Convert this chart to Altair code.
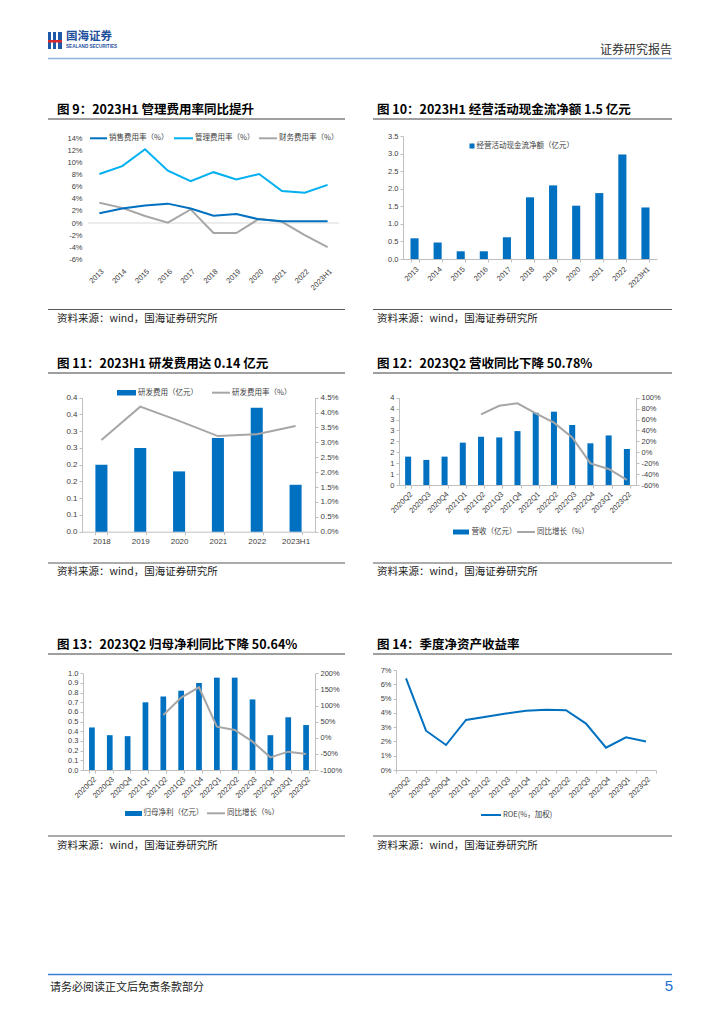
import altair as alt
import pandas as pd

CJK = "Noto Sans CJK SC"
LAT = "Liberation Sans"
BLUE = "#0070C0"
LBLUE = "#00B0F0"
GRAY = "#A6A6A6"
AX = "#BFBFBF"
LBL = "#404040"

# ---------------- data ----------------
years9 = ["2013", "2014", "2015", "2016", "2017", "2018", "2019", "2020", "2021", "2022", "2023H1"]
sales_rate = [1.6, 2.4, 2.9, 3.2, 2.4, 1.2, 1.5, 0.6, 0.3, 0.3, 0.3]
admin_rate = [8.1, 9.4, 12.2, 8.65, 6.9, 8.4, 7.2, 8.1, 5.3, 5.0, 6.3]
fin_rate = [3.35, 2.5, 1.15, 0.05, 2.25, -1.65, -1.65, 0.7, 0.2, -2.0, -4.0]
y9_ticks = [-6, -4, -2, 0, 2, 4, 6, 8, 10, 12, 14]

years10 = ["2013", "2014", "2015", "2016", "2017", "2018", "2019", "2020", "2021", "2022", "2023H1"]
ocf = [0.59, 0.47, 0.22, 0.22, 0.62, 1.76, 2.10, 1.52, 1.88, 2.98, 1.47]
y10_ticks = [0, 0.5, 1.0, 1.5, 2.0, 2.5, 3.0, 3.5]

years11 = ["2018", "2019", "2020", "2021", "2022", "2023H1"]
rd_exp = [0.20, 0.25, 0.18, 0.28, 0.37, 0.14]
rd_rate = [3.08, 4.20, 3.72, 3.21, 3.27, 3.55]
y11_left_ticks = [0, 0.05, 0.1, 0.15, 0.2, 0.25, 0.3, 0.35, 0.4]
y11_right_ticks = [0, 0.5, 1.0, 1.5, 2.0, 2.5, 3.0, 3.5, 4.0, 4.5]

quarters = ["2020Q2", "2020Q3", "2020Q4", "2021Q1", "2021Q2", "2021Q3", "2021Q4",
            "2022Q1", "2022Q2", "2022Q3", "2022Q4", "2023Q1", "2023Q2"]
revenue = [1.30, 1.15, 1.30, 1.94, 2.21, 2.18, 2.47, 3.31, 3.36, 2.75, 1.91, 2.27, 1.65]
rev_yoy = [None, None, None, None, 69.5, 85.3, 89.6, 71.3, 54.2, 27.3, -20.3, -30.7, -50.78]
y12_left_ticks = [0, 0.5, 1.0, 1.5, 2.0, 2.5, 3.0, 3.5, 4.0]
y12_right_ticks = [-60, -40, -20, 0, 20, 40, 60, 80, 100]

net_profit = [0.44, 0.36, 0.35, 0.70, 0.76, 0.82, 0.90, 0.955, 0.955, 0.73, 0.36, 0.545, 0.465]
np_yoy = [None, None, None, None, 70.7, 124.5, 156.6, 34.5, 24.1, -12.0, -60.7, -43.1, -50.64]
y13_left_ticks = [0, 0.1, 0.2, 0.3, 0.4, 0.5, 0.6, 0.7, 0.8, 0.9, 1.0]
y13_right_ticks = [-100, -50, 0, 50, 100, 150, 200]

roe = [6.42, 2.75, 1.75, 3.5, 3.73, 3.95, 4.15, 4.22, 4.18, 3.25, 1.56, 2.29, 2.0]
y14_ticks = [0, 1, 2, 3, 4, 5, 6, 7]

titles = ["图 9：2023H1 管理费用率同比提升", "图 10：2023H1 经营活动现金流净额 1.5 亿元",
          "图 11：2023H1 研发费用达 0.14 亿元", "图 12：2023Q2 营收同比下降 50.78%",
          "图 13：2023Q2 归母净利同比下降 50.64%", "图 14：季度净资产收益率"]
source_text = "资料来源：wind，国海证券研究所"
leg9 = ["销售费用率（%）", "管理费用率（%）", "财务费用率（%）"]
leg10 = "经营活动现金流净额（亿元）"
leg11 = ["研发费用（亿元）", "研发费用率（%）"]
leg12 = ["营收（亿元）", "同比增长（%）"]
leg13 = ["归母净利（亿元）", "同比增长（%）"]
leg14 = "ROE(%，加权)"

# ---------------- page geometry (view coords = page coords - 8) ----------------
W, H = 708, 980
O = 8


def ax(**kw):
    base = dict(labelFont=LAT, labelFontSize=7.5, labelColor=LBL, title=None, grid=False,
                domainColor=AX, tickColor=AX, tickSize=3, labelOverlap=False, labelFlush=False)
    base.update(kw)
    return alt.Axis(**base)


def xaxis(bottom, **kw):
    return ax(orient="bottom", offset=bottom - H, **kw)


def yleft(left, **kw):
    return ax(orient="left", offset=-left, **kw)


def yright(right, **kw):
    return ax(orient="right", offset=right - W, **kw)


layers = []

# ---------------- chart 9 ----------------
X9 = (80, 331)
Y9 = (251.3, 130.3)
df9 = pd.DataFrame({"year": years9, "sales": sales_rate, "admin": admin_rate, "fin": fin_rate})
sx9 = alt.Scale(type="point", domain=years9, range=list(X9), padding=0.5)
sy9 = alt.Scale(domain=[-6, 14], range=list(Y9), nice=False, zero=False)
df9z = pd.DataFrame({"z": [0]})
layers.append(alt.Chart(df9z).mark_rule(color="#D9D9D9", strokeWidth=1).encode(
    y=alt.Y("z:Q", scale=sy9, axis=None), x=alt.value(X9[0]), x2=alt.value(X9[1])))
layers.append(alt.Chart(df9).mark_line(color=LBLUE, strokeWidth=2).encode(
    x=alt.X("year:N", scale=sx9, axis=xaxis(Y9[0], labelAngle=-45, domain=False, ticks=False, labelPadding=8)),
    y=alt.Y("admin:Q", scale=sy9, axis=yleft(X9[0], values=y9_ticks, labelExpr="datum.value + '%'",
                                              domain=False, ticks=False, labelPadding=6))))
layers.append(alt.Chart(df9).mark_line(color=GRAY, strokeWidth=2).encode(
    x=alt.X("year:N", scale=sx9, axis=None), y=alt.Y("fin:Q", scale=sy9, axis=None)))
layers.append(alt.Chart(df9).mark_line(color=BLUE, strokeWidth=2).encode(
    x=alt.X("year:N", scale=sx9, axis=None), y=alt.Y("sales:Q", scale=sy9, axis=None)))

# ---------------- chart 10 ----------------
X10 = (395, 649)
Y10 = (251, 128.3)
df10 = pd.DataFrame({"year": years10, "ocf": ocf})
layers.append(alt.Chart(df10).mark_bar(color=BLUE).encode(
    x=alt.X("year:N", scale=alt.Scale(type="band", domain=years10, range=list(X10), paddingInner=0.65,
                                      paddingOuter=0.325),
            axis=xaxis(Y10[0], labelAngle=-45, tickBand="extent", labelPadding=3)),
    y=alt.Y("ocf:Q", scale=alt.Scale(domain=[0, 3.5], range=list(Y10), nice=False),
            axis=yleft(X10[0], values=y10_ticks, format=".1f", labelPadding=2))))

# ---------------- chart 11 ----------------
X11 = (74, 307)
Y11 = (523.7, 389.7)
df11 = pd.DataFrame({"year": years11, "rd": rd_exp, "rate": rd_rate})
sx11 = alt.Scale(type="band", domain=years11, range=list(X11), paddingInner=0.69, paddingOuter=0.345)
layers.append(alt.Chart(df11).mark_bar(color=BLUE).encode(
    x=alt.X("year:N", scale=sx11, axis=xaxis(Y11[0], labelAngle=0, tickBand="extent", labelPadding=3,
                                             labelFontSize=8)),
    y=alt.Y("rd:Q", scale=alt.Scale(domain=[0, 0.4], range=list(Y11), nice=False),
            axis=yleft(X11[0], values=y11_left_ticks,
                       labelExpr="format(round(datum.value*10 + 1e-9)/10, '.1f')", labelPadding=2,
                       labelFontSize=8))))
layers.append(alt.Chart(df11).mark_line(color=GRAY, strokeWidth=2).encode(
    x=alt.X("year:N", scale=sx11, bandPosition=0.5, axis=None),
    y=alt.Y("rate:Q", scale=alt.Scale(domain=[0, 4.5], range=list(Y11), nice=False),
            axis=yright(X11[1], values=y11_right_ticks, labelExpr="format(datum.value, '.1f') + '%'",
                        labelPadding=2, labelFontSize=8))))

# ---------------- chart 12 ----------------
X12 = (391, 628)
Y12 = (477, 389.7)
df12 = pd.DataFrame({"q": quarters, "rev": revenue, "yoy": rev_yoy})
sx12 = alt.Scale(type="band", domain=quarters, range=list(X12), paddingInner=0.67, paddingOuter=0.335)
layers.append(alt.Chart(df12).mark_bar(color=BLUE).encode(
    x=alt.X("q:N", scale=sx12, axis=xaxis(Y12[0], labelAngle=-45, tickBand="extent", labelPadding=2)),
    y=alt.Y("rev:Q", scale=alt.Scale(domain=[0, 4], range=list(Y12), nice=False),
            axis=yleft(X12[0], values=y12_left_ticks, labelExpr="format(round(datum.value + 1e-9), 'd')",
                       labelPadding=2))))
layers.append(alt.Chart(df12).mark_line(color=GRAY, strokeWidth=2).encode(
    x=alt.X("q:N", scale=sx12, bandPosition=0.5, axis=None),
    y=alt.Y("yoy:Q", scale=alt.Scale(domain=[-60, 100], range=list(Y12), nice=False),
            axis=yright(X12[1], values=y12_right_ticks, labelExpr="datum.value + '%'", labelPadding=2))))

# ---------------- chart 13 ----------------
X13 = (75, 307)
Y13 = (762, 665.3)
df13 = pd.DataFrame({"q": quarters, "np": net_profit, "yoy": np_yoy})
sx13 = alt.Scale(type="band", domain=quarters, range=list(X13), paddingInner=0.68, paddingOuter=0.34)
layers.append(alt.Chart(df13).mark_bar(color=BLUE).encode(
    x=alt.X("q:N", scale=sx13, axis=xaxis(Y13[0], labelAngle=-45, tickBand="extent", labelPadding=2)),
    y=alt.Y("np:Q", scale=alt.Scale(domain=[0, 1], range=list(Y13), nice=False),
            axis=yleft(X13[0], values=y13_left_ticks, format=".1f", labelPadding=2))))
layers.append(alt.Chart(df13).mark_line(color=GRAY, strokeWidth=2).encode(
    x=alt.X("q:N", scale=sx13, bandPosition=0.5, axis=None),
    y=alt.Y("yoy:Q", scale=alt.Scale(domain=[-100, 200], range=list(Y13), nice=False),
            axis=yright(X13[1], values=y13_right_ticks, labelExpr="datum.value + '%'", labelPadding=2))))

# ---------------- chart 14 ----------------
X14 = (388, 648)
Y14 = (762, 662)
df14 = pd.DataFrame({"q": quarters, "roe": roe})
layers.append(alt.Chart(df14).mark_line(color=BLUE, strokeWidth=2).encode(
    x=alt.X("q:N", scale=alt.Scale(type="band", domain=quarters, range=list(X14), paddingInner=0,
                                   paddingOuter=0),
            bandPosition=0.5, axis=xaxis(Y14[0], labelAngle=-45, tickBand="extent", labelPadding=2)),
    y=alt.Y("roe:Q", scale=alt.Scale(domain=[0, 7], range=list(Y14), nice=False),
            axis=yleft(X14[0], values=y14_ticks, labelExpr="datum.value + '%'", labelPadding=2))))

# ---------------- page decorations ----------------
deco = alt.Data(values=[{"k": 0}])


def txt(x, y, s, size, color="#000000", weight="normal", align="left", font=CJK):
    return alt.Chart(deco).mark_text(align=align, baseline="middle", fontSize=size, fontWeight=weight,
                                     color=color, font=font).encode(
        x=alt.value(x - O), y=alt.value(y - O), text=alt.value(s))


def rule(x1, x2, y, color, w=1.0):
    return alt.Chart(deco).mark_rule(color=color, strokeWidth=w).encode(
        x=alt.value(x1 - O), x2=alt.value(x2 - O), y=alt.value(y - O))


def box(x1, x2, y1, y2, color):
    return alt.Chart(deco).mark_rect(color=color).encode(
        x=alt.value(x1 - O), x2=alt.value(x2 - O), y=alt.value(y1 - O), y2=alt.value(y2 - O))


marks = []
# header
marks += [box(48, 51, 32, 49, "#1E5AA8"), box(53, 56, 32, 49, "#1E5AA8"),
          box(58, 62, 32, 49, "#1E5AA8"), box(48, 62, 40, 42.5, "#D9262C")]
marks.append(txt(66, 37, "国海证券", 11.5, "#1E4F9C", "bold"))
marks.append(txt(66, 47, "SEALAND SECURITIES", 4.6, "#1E4F9C", "bold", font=LAT))
marks.append(txt(672, 49.5, "证券研究报告", 12, "#333333", align="right"))
marks.append(rule(48, 672, 58.5, "#8DB3E2", 1.5))
# footer
marks.append(rule(48, 672, 974.5, "#3C7FD0", 1.5))
marks.append(txt(50, 988, "请务必阅读正文后免责条款部分", 11, "#222222"))
marks.append(txt(673, 986, "5", 15, "#1F6FD0", align="right", font=LAT))

# titles, underlines, sources
rows_y = [(110, 119, 309.5, 319), (363.5, 373, 563, 572), (645, 654, 836, 846)]
for i, (ty, uy, sy, sty) in enumerate(rows_y):
    for j, (tx, lx1, lx2) in enumerate([(57, 48, 345), (377, 373, 672)]):
        marks.append(txt(tx, ty, titles[i * 2 + j], 12.5, "#000000", "bold"))
        marks.append(rule(lx1, lx2, uy, "#404040", 1.2))
        marks.append(rule(lx1, lx2, sy, "#595959", 1.2))
        marks.append(txt(tx, sty, source_text, 10.5, "#222222"))

LF = 7.5
# legend chart 9
for (x1, x2, tx), col, lab in zip([(90, 107, 109), (174, 193, 195), (259, 277, 279)], [BLUE, LBLUE, GRAY], leg9):
    marks.append(rule(x1, x2, 138.3, col, 2))
    marks.append(txt(tx, 138.3, lab, LF, LBL))
# legend chart 10
marks.append(box(469.5, 474.5, 143.5, 148.5, BLUE))
marks.append(txt(476.5, 146, leg10, LF, LBL))
# legend chart 11
marks.append(box(117, 136, 390, 395.5, BLUE))
marks.append(txt(138, 392.7, leg11[0], LF, LBL))
marks.append(rule(212, 230, 392.7, GRAY, 2))
marks.append(txt(232, 392.7, leg11[1], LF, LBL))
# legend chart 12
marks.append(box(453, 469, 529.5, 534.5, BLUE))
marks.append(txt(471.5, 532, leg12[0], LF, LBL))
marks.append(rule(517, 535, 532, GRAY, 2))
marks.append(txt(537, 532, leg12[1], LF, LBL))
# legend chart 13
marks.append(box(125, 142, 811, 816, BLUE))
marks.append(txt(143.5, 813.3, leg13[0], LF, LBL))
marks.append(rule(207, 225, 813.3, GRAY, 2))
marks.append(txt(227, 813.3, leg13[1], LF, LBL))
# legend chart 14
marks.append(rule(481, 501, 815, BLUE, 2))
marks.append(txt(503, 815, leg14, LF, LBL))

chart = alt.layer(*marks, *layers).resolve_scale(x="independent", y="independent").properties(
    width=W, height=H, padding=0, background="white"
).configure_view(strokeWidth=0).configure_text(font=CJK)

chart.save("out.html", embed_options={"renderer": "svg", "actions": False})
